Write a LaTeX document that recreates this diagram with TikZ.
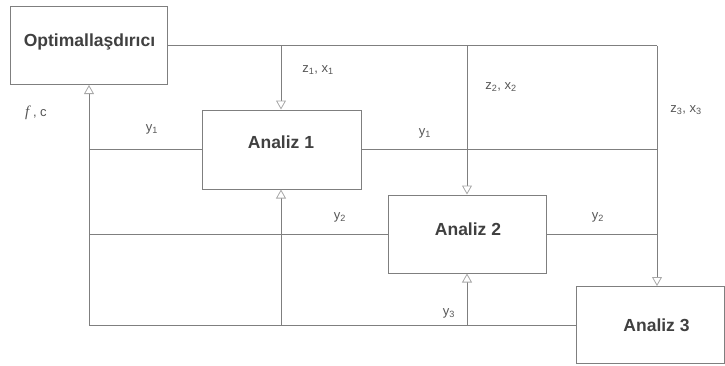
\documentclass[tikz,border=0pt]{standalone}
\usepackage{fontspec}
\setmainfont{Liberation Sans}
\newfontfamily\serifit{Liberation Serif}
\usetikzlibrary{arrows.meta}
\definecolor{linegray}{HTML}{7F7F7F}
\definecolor{tipgray}{HTML}{A8A8A8}
\definecolor{boxtext}{HTML}{404040}
\definecolor{labeltext}{HTML}{555555}
\tikzset{
  block/.style={draw=linegray, line width=1pt, fill=white, rectangle, inner sep=0pt},
  blocktext/.style={text=boxtext, font=\fontsize{17.5}{19}\selectfont\bfseries, inner sep=0pt},
  wire/.style={draw=linegray, line width=0.9pt},
  feed/.style={wire, -{Triangle[open, length=9pt, width=10pt, line width=0.8pt, color=tipgray]}},
  lbl/.style={text=labeltext, font=\fontsize{13}{15}\selectfont, inner sep=0pt}
}
\begin{document}
\begin{tikzpicture}[x=1pt, y=-1pt]
\useasboundingbox (0,0) rectangle (725,365);

% blocks
\node[block, minimum width=157pt, minimum height=78pt] (opt) at (88.5,45.5) {};
\node[block, minimum width=159pt, minimum height=79pt] (an1) at (281.5,149.5) {};
\node[block, minimum width=158pt, minimum height=78pt] (an2) at (467,234) {};
\node[block, minimum width=148pt, minimum height=77pt] (an3) at (650,325) {};

\node[blocktext] (opt-t) at (89.5,42) {Optimallaşdırıcı};
\node[blocktext] (an1-t) at (281,142) {Analiz 1};
\node[blocktext] (an2-t) at (468,229) {Analiz 2};
\node[blocktext] (an3-t) at (656.5,325) {Analiz 3};

% junction points
\coordinate (topR) at (657,45.5);
\coordinate (top1) at (281,45.5);
\coordinate (top2) at (467,45.5);
\coordinate (botL) at (89,325);
\coordinate (bot1) at (281,325);
\coordinate (bot2) at (467,325);
\coordinate (y1L) at (89,149.5);
\coordinate (y1R) at (657,149.5);
\coordinate (y2L) at (89,234);
\coordinate (y2R) at (657,234);

% design variables going down
\draw[wire] (opt.east |- topR) -- (topR);
\draw[feed] (topR) -- (topR |- an3.north);
\draw[feed] (top1) -- (top1 |- an1.north);
\draw[feed] (top2) -- (top2 |- an2.north);

% coupling outputs
\draw[wire] (an1.west |- y1L) -- (y1L);
\draw[wire] (an1.east |- y1R) -- (y1R);
\draw[wire] (an2.west) -- (y2L);
\draw[wire] (an2.east) -- (y2R);
\draw[wire] (an3.west) -- (botL);
\draw[feed] (botL) -- (botL |- opt.south);
\draw[feed] (bot1) -- (bot1 |- an1.south);
\draw[feed] (bot2) -- (bot2 |- an2.south);

% labels
\node[lbl] (l-zx1) at (318,70) {z\textsubscript{1}, x\textsubscript{1}};
\node[lbl] (l-zx2) at (501,87) {z\textsubscript{2}, x\textsubscript{2}};
\node[lbl] (l-zx3) at (686,110) {z\textsubscript{3}, x\textsubscript{3}};
\node[lbl] (l-y1a) at (152,129) {y\textsubscript{1}};
\node[lbl] (l-y1b) at (425,133) {y\textsubscript{1}};
\node[lbl] (l-y2a) at (340,217) {y\textsubscript{2}};
\node[lbl] (l-y2b) at (598,217) {y\textsubscript{2}};
\node[lbl] (l-y3) at (449,313) {y\textsubscript{3}};
\node[lbl] (l-fc) at (36,113) {{\serifit\itshape\fontsize{15}{17}\selectfont f} , c};
\end{tikzpicture}
\end{document}
